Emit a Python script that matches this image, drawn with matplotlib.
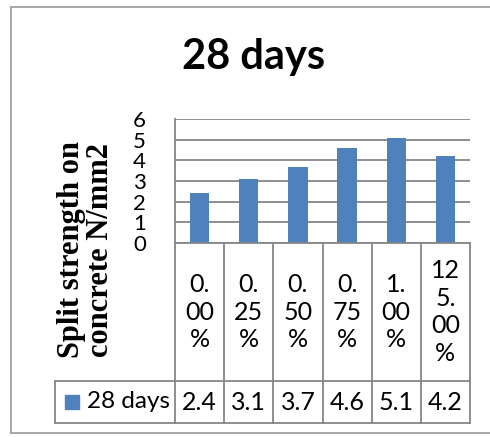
import matplotlib.pyplot as plt
from matplotlib.lines import Line2D
from matplotlib.patches import Rectangle
import matplotlib.transforms as mtransforms

# data
categories = ["0.\n00\n%", "0.\n25\n%", "0.\n50\n%", "0.\n75\n%", "1.\n00\n%", "12\n5.\n00\n%"]
strength = [2.4, 3.1, 3.7, 4.6, 5.1, 4.2]
series_name = "28 days"
yticks = [0, 1, 2, 3, 4, 5, 6]

BLUE = "#4F81BD"
GRID = "#868686"
SANS = "Lato"
SERIF = "Liberation Serif"

W, H = 490, 437
fig = plt.figure(figsize=(W / 100, H / 100), dpi=100)


def fx(px):
    return px / W


def fy(py):
    return 1 - py / H


# plot area in pixel coords of the reference
left, right, top, bottom = 175, 470, 119, 243
ax = fig.add_axes([fx(left), fy(bottom), fx(right) - fx(left), fy(top) - fy(bottom)])

xs = list(range(len(strength)))
ax.bar(xs, strength, width=0.39, color=BLUE, zorder=3)
ax.set_xlim(-0.5, len(strength) - 0.5)
ax.set_ylim(0, 6)
ax.set_yticks(yticks)
ax.set_yticklabels([str(t) for t in yticks], fontsize=16, family=SANS)
ax.tick_params(axis="y", length=0, pad=21)
ax.set_xticks([])
for t in yticks:
    ax.axhline(t, color=GRID, lw=1.3, zorder=1)
for s in ["top", "right", "bottom"]:
    ax.spines[s].set_visible(False)
ax.spines["left"].set_color(GRID)
ax.spines["left"].set_linewidth(1.3)

# outer chart border (right edge cropped off)
fig.add_artist(Line2D([fx(11), fx(11)], [fy(7), fy(433)], color="#A0A0A0", lw=1.3))
fig.add_artist(Line2D([fx(11), 1], [fy(7), fy(7)], color="#A0A0A0", lw=1.3))
fig.add_artist(Line2D([fx(11), 1], [fy(433), fy(433)], color="#A0A0A0", lw=1.3))

fig.text(fx(254), fy(57), series_name, ha="center", va="center",
         fontsize=30, fontweight="bold", family=SANS)

fig.text(fx(71), fy(250), "Split strength on", rotation=90, ha="center", va="center",
         fontsize=22, fontweight="bold", family=SERIF)
fig.text(fx(100), fy(250), "concrete N/mm2", rotation=90, ha="center", va="center",
         fontsize=22, fontweight="bold", family=SERIF)

# data table under the axis, columns follow the x scale
trans = mtransforms.blended_transform_factory(ax.transData, fig.transFigure)
row1_bot, row2_bot = 381, 423
table_kw = dict(color=GRID, lw=1.3, transform=trans, clip_on=False)
edges = [x - 0.5 for x in xs] + [xs[-1] + 0.5]
for e in edges:
    fig.add_artist(Line2D([e, e], [fy(bottom), fy(row2_bot)], **table_kw))
fig.add_artist(Line2D([edges[0], edges[-1]], [fy(bottom), fy(bottom)], **table_kw))

fig.add_artist(Line2D([fx(55), fx(right)], [fy(row1_bot), fy(row1_bot)], color=GRID, lw=1.3))
fig.add_artist(Line2D([fx(55), fx(right)], [fy(row2_bot), fy(row2_bot)], color=GRID, lw=1.3))
fig.add_artist(Line2D([fx(55), fx(55)], [fy(row1_bot), fy(row2_bot)], color=GRID, lw=1.3))

for x, cat, v in zip(xs, categories, strength):
    fig.text(x, fy(312), cat, transform=trans, ha="center", va="center",
             fontsize=18, family=SANS, linespacing=1.25)
    fig.text(x, fy(402), f"{v:.1f}", transform=trans, ha="center", va="center",
             fontsize=18, family=SANS)

fig.add_artist(Rectangle((fx(65), fy(409)), fx(14), 14 / H, color=BLUE))
fig.text(fx(87), fy(402), series_name, ha="left", va="center", fontsize=17.5, family=SANS)

fig.savefig("out.png", dpi=100)
